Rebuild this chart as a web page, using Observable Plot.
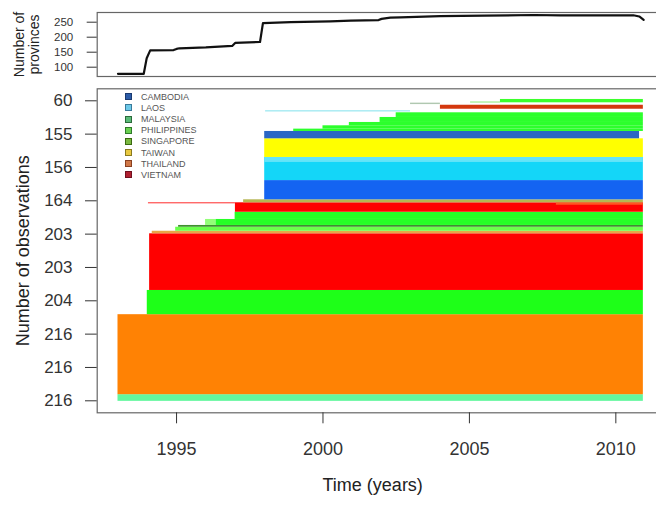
<!DOCTYPE html>
<html><head><meta charset="utf-8">
<script src="https://cdn.jsdelivr.net/npm/d3@7"></script>
<script src="https://cdn.jsdelivr.net/npm/@observablehq/plot@0.6"></script>
<style>
html,body{margin:0;padding:0;background:#fff;overflow:hidden}
#wrap{position:relative;width:656px;height:506px;overflow:hidden;background:#fff;font-family:"Liberation Sans",Arial,sans-serif}
#top{position:absolute;left:0;top:0;width:700px}
#main{position:absolute;left:0;top:80px;width:700px}
#wrap svg{max-width:none !important}
#legend{position:absolute;left:0;top:0}
.lg{position:absolute;font-size:9px;color:#555;white-space:nowrap;line-height:9px}
.sq{position:absolute;width:5px;height:5px;border:1.5px solid}
</style></head>
<body><div id="wrap"><div id="top"></div><div id="main"></div><div id="legend"></div></div>
<script>
// ---- top panel: number of provinces over time ----
const provYears  = [1993.0, 1993.88, 1993.98, 1994.1, 1994.9, 1995.0, 1995.1, 1996.0, 1996.9, 1997.0, 1997.85, 1997.95, 1998.9, 2000.25, 2000.95, 2001.9, 2002.0, 2002.3, 2002.65, 2004.0, 2005.5, 2007.2, 2008.1, 2010.6, 2010.8, 2010.95];
const provCounts = [78, 78, 130, 156, 157, 161, 163, 166, 171, 181, 184, 247, 250, 253, 255, 257, 261, 265, 266, 270, 272, 274, 273, 273, 269, 258];
const provTicks = [100, 150, 200, 250];

// ---- main panel: observation blocks (rows = provinces) ----
const obsTickRows   = [1, 31, 61, 91, 121, 151, 181, 211, 241, 271];
const obsTickLabels = ["216", "216", "216", "204", "203", "203", "164", "156", "155", "60"];
const yearTicks = [1995, 2000, 2005, 2010];

const segStart = [1993.0, 1993.0, 1994.0, 1994.08, 1994.17, 1994.97, 1995.07, 1995.99, 1996.35, 1997.0, 1997.01, 1994.04, 2007.97, 1997.29, 1998.01, 1998.01, 1998.01, 1998.01, 1998.01, 1999.0, 2000.0, 2000.9, 2001.95, 2002.5, 1998.04, 2004.01, 2002.99, 2005.04, 2006.06];
const segEnd   = [2010.94, 2010.94, 2010.94, 2010.94, 2010.94, 2010.94, 2010.94, 1996.35, 2010.94, 2010.94, 2010.94, 1997.01, 2010.94, 2010.94, 2010.94, 2010.94, 2010.94, 2010.94, 2010.81, 2010.94, 2010.94, 2010.94, 2010.94, 2010.94, 2002.99, 2010.94, 2004.01, 2006.06, 2010.94];
const segRowLo = [0.5, 6.5, 78.5, 100.3, 151.3, 153.6, 157.2, 158.8, 158.8, 164.2, 170.7, 178.3, 177.0, 179.2, 181.9, 199.2, 215.5, 220.0, 236.8, 243.4, 245.5, 248.5, 251.5, 256.0, 261.0, 263.4, 267.6, 268.9, 269.2];
const segRowHi = [6.5, 78.5, 100.3, 151.3, 153.6, 157.2, 158.8, 164.2, 164.2, 170.7, 179.2, 179.2, 179.2, 181.9, 199.2, 220.0, 220.0, 236.8, 243.4, 245.5, 248.5, 251.5, 256.0, 260.2, 262.0, 267.0, 268.9, 270.0, 272.2];
const segShade = ["mint", "orange", "green", "red", "tan", "lightgreen", "darkgreen", "palegreen", "green2", "green2", "red", "redline", "orangered", "olive", "blue", "cyan", "lightcyan", "yellow", "steel", "green3", "green3", "green3", "green3", "green3", "paleCyan", "brownred", "grey", "palegreen2", "green4"];
const shadeColor = {
  mint: "#62f79e", orange: "#ff8204", green: "#1eff18", red: "#ff0000", tan: "#e9a546",
  lightgreen: "#6aff4a", darkgreen: "#3f8f2f", palegreen: "#93ff78", green2: "#26ff26",
  redline: "#ff2b2b", orangered: "#ff5522", olive: "#b6b652", blue: "#1464f2", cyan: "#14d6f8",
  lightcyan: "#64e4f8", yellow: "#ffff00", steel: "#2a66c4", green3: "#2cff2c", paleCyan: "#8ee4ee",
  brownred: "#d4380e", grey: "#b0c8b0", palegreen2: "#a0f090", green4: "#3cff2c"
};

// ---- legend ----
const countries = ["CAMBODIA", "LAOS", "MALAYSIA", "PHILIPPINES", "SINGAPORE", "TAIWAN", "THAILAND", "VIETNAM"];
const countryFill   = ["#2c5ca8", "#6cc8e8", "#5aba78", "#6ad050", "#7ab840", "#e8c840", "#d07848", "#b02030"];
const countryStroke = ["#1a3a70", "#3a7a9a", "#2a6a3a", "#2f7a2a", "#3a6a10", "#8a7a20", "#8a4020", "#701020"];

const segs = segStart.map((s, i) => ({start: s, end: segEnd[i], lo: segRowLo[i], hi: segRowHi[i], shade: segShade[i]}));
const prov = provYears.map((y, i) => ({year: y, count: provCounts[i]}));

const font = '"Liberation Sans", Arial, sans-serif';
const xDomain = [1992.29, 2011.72];

const topPlot = Plot.plot({
  width: 700, height: 80,
  marginLeft: 96.7, marginRight: 34.3, marginTop: 12, marginBottom: 4,
  x: {domain: xDomain, axis: null},
  y: {domain: [69, 282.3]},
  style: {fontFamily: font, fontSize: "11px", color: "#333", background: "transparent", overflow: "visible", maxWidth: "none"},
  marks: [
    Plot.frame({stroke: "#666", strokeWidth: 1.2}),
    Plot.axisY({ticks: provTicks, tickSize: 10, tickPadding: 14, label: null, fontSize: 11.5}),
    Plot.line(prov, {x: "year", y: "count", stroke: "#111", strokeWidth: 2.2}),
    Plot.text(["Number of"], {text: d => d, frameAnchor: "left", textAnchor: "middle", dx: -78, rotate: -90, fontSize: 14, fill: "#222"}),
    Plot.text(["provinces"], {text: d => d, frameAnchor: "left", textAnchor: "middle", dx: -63, rotate: -90, fontSize: 14, fill: "#222"})
  ]
});
document.getElementById("top").appendChild(topPlot);

const mainPlot = Plot.plot({
  width: 700, height: 426,
  marginLeft: 96.7, marginRight: 34.3, marginTop: 8.3, marginBottom: 93.7,
  x: {domain: xDomain},
  y: {domain: [-9.8, 281.8]},
  style: {fontFamily: font, fontSize: "17px", color: "#333", background: "transparent", overflow: "visible", maxWidth: "none"},
  marks: [
    Plot.rect(segs, {x1: "start", x2: "end", y1: "lo", y2: "hi", fill: d => shadeColor[d.shade]}),
    Plot.frame({stroke: "#666", strokeWidth: 1.2}),
    Plot.axisY({ticks: obsTickRows, tickFormat: d => obsTickLabels[obsTickRows.indexOf(d)], tickSize: 11.7, tickPadding: 13, label: null, fontSize: 17}),
    Plot.axisX({ticks: yearTicks, tickFormat: d => String(d), tickSize: 11, tickPadding: 18, label: null, fontSize: 18}),
    Plot.text(["Time (years)"], {text: d => d, frameAnchor: "bottom", dx: -9, dy: 78, fontSize: 18, fill: "#222"}),
    Plot.text(["Number of observations"], {text: d => d, frameAnchor: "left", textAnchor: "middle", dx: -74, rotate: -90, fontSize: 18, fill: "#222"})
  ]
});
document.getElementById("main").appendChild(mainPlot);

const lg = d3.select("#legend");
countries.forEach((c, i) => {
  const cy = 97.3 + i * 11.14;
  lg.append("div").attr("class", "sq")
    .style("left", "125px").style("top", (cy - 4) + "px")
    .style("background", countryFill[i]).style("border-color", countryStroke[i]);
  lg.append("div").attr("class", "lg")
    .style("left", "141px").style("top", (cy - 4.5) + "px")
    .text(c);
});
</script></body></html>
